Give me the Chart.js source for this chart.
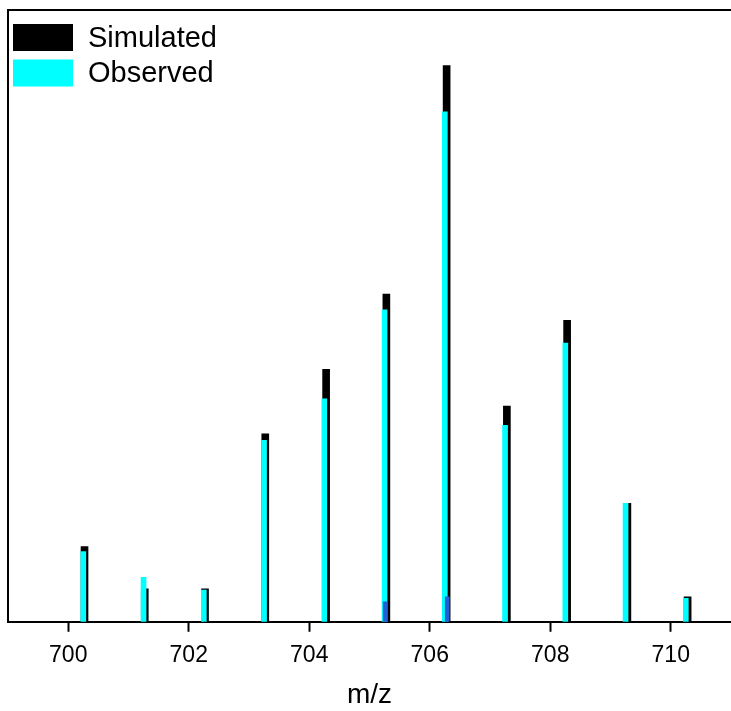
<!DOCTYPE html>
<html>
<head>
<meta charset="utf-8">
<title>Simulated vs observed isotope pattern</title>
<script src="https://cdn.jsdelivr.net/npm/chart.js@4.4.0/dist/chart.umd.min.js"></script>
<style>
    html, body { margin: 0; padding: 0; background: #fff; }
    canvas { display: block; }
</style>
</head>
<body>
<canvas id="chart" width="731" height="711"></canvas>
<script>
// peak positions (m/z) and relative intensities
const simMz = [700.27, 701.27, 702.27, 703.27, 704.28, 705.28, 706.28, 707.28, 708.28, 709.28, 710.28];
const simInt = [13.5, 5.9, 5.9, 33.8, 45.4, 58.9, 100, 38.8, 54.2, 21.3, 4.5];

const obsMz = [700.25, 701.25, 702.25, 703.25, 704.25, 705.25, 706.25, 707.25, 708.25, 709.25, 710.25];
const obsInt = [12.6, 8.0, 5.7, 32.6, 40.1, 56.1, 91.7, 35.3, 50.1, 21.3, 4.2];

// small dark-blue stubs at the base of two peaks
const extraMz = [705.26, 706.29];
const extraInt = [3.6, 4.5];

const xTicks = [700, 702, 704, 706, 708, 710];

const toPoints = (xs, ys) => xs.map((x, i) => ({x: x, y: ys[i]}));

const font = 'Liberation Sans, Arial, sans-serif';

// left + top frame lines (right side is off the canvas), plus the legend
const framePlugin = {
    id: 'frame',
    afterDraw: (chart) => {
        const ctx = chart.ctx;
        const a = chart.chartArea;
        ctx.save();
        ctx.strokeStyle = '#000';
        ctx.lineWidth = 2;
        ctx.beginPath();
        ctx.moveTo(a.left, a.bottom);
        ctx.lineTo(a.left, a.top);
        ctx.lineTo(chart.width, a.top);
        ctx.stroke();

        // legend boxes, top-left inside the frame
        let items = chart.data.datasets.filter(d => d.label !== '');
        ctx.font = '29px ' + font;
        ctx.textBaseline = 'middle';
        ctx.textAlign = 'left';
        for (let i = 0; i < items.length; i++) {
            let y = a.top + 14 + i * 35.5;
            ctx.fillStyle = items[i].backgroundColor;
            ctx.fillRect(a.left + 5, y, 60, 27);
            ctx.fillStyle = '#000';
            ctx.fillText(items[i].label, a.left + 80, y + 14.5);
        }
        ctx.restore();
    }
};

const ctx = document.getElementById('chart');
const myChart = new Chart(ctx, {
    type: 'bar',
    data: {
        datasets: [{
                label: 'Simulated',
                data: toPoints(simMz, simInt),
                backgroundColor: '#000000',
                borderWidth: 0,
                barThickness: 7,
                grouped: false,
                order: 3
            }, {
                label: 'Observed',
                data: toPoints(obsMz, obsInt),
                backgroundColor: '#00ffff',
                borderWidth: 0,
                barThickness: 5,
                grouped: false,
                order: 2
            }, {
                label: '',
                data: toPoints(extraMz, extraInt),
                backgroundColor: '#1f5fd8',
                borderWidth: 0,
                barThickness: 4,
                grouped: false,
                order: 1
            }]
    },
    options: {
        responsive: false,
        animation: false,
        layout: {
            padding: {left: 8, top: 10, right: 0, bottom: 0}
        },
        plugins: {
            tooltip: {enabled: false},
            legend: {display: false}
        },
        scales: {
            x: {
                type: 'linear',
                offset: false,
                min: 699,
                max: 711,
                afterBuildTicks: (scale) => {
                    scale.ticks = xTicks.map(v => ({value: v}));
                },
                ticks: {
                    color: '#000',
                    padding: 11,
                    maxRotation: 0,
                    font: {family: font, size: 23, lineHeight: 1.15},
                    callback: (v) => v
                },
                grid: {
                    display: true,
                    offset: false,
                    drawOnChartArea: false,
                    drawTicks: true,
                    tickLength: 10,
                    tickWidth: 2,
                    tickColor: '#000'
                },
                border: {display: true, color: '#000', width: 2},
                title: {
                    display: true,
                    text: 'm/z',
                    color: '#000',
                    font: {family: font, size: 28, lineHeight: 1.1},
                    padding: {top: 0, bottom: 0}
                }
            },
            y: {
                display: false,
                min: 0,
                max: 110
            }
        }
    },
    plugins: [framePlugin]
});
</script>
</body>
</html>
